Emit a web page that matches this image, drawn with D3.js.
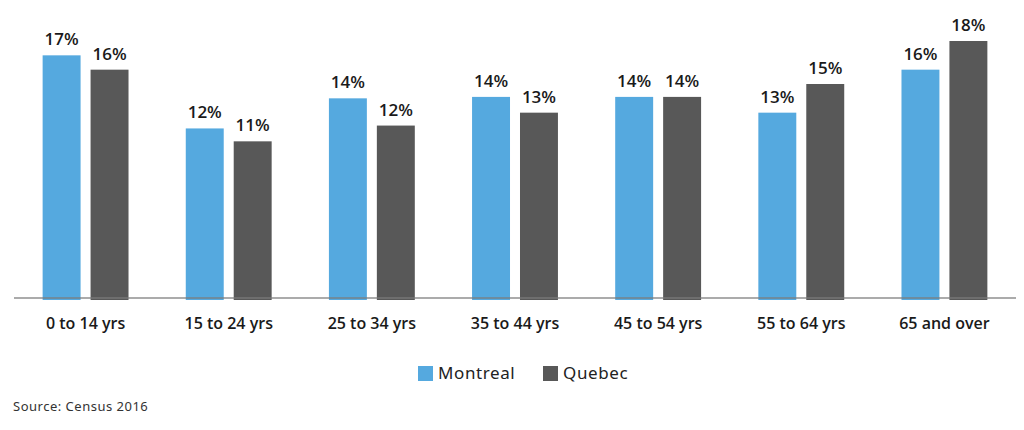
<!DOCTYPE html>
<html><head><meta charset="utf-8">
<script src="https://cdn.jsdelivr.net/npm/d3@7"></script>
<style>
html,body{margin:0;padding:0;background:#fff;}
svg{display:block;}
</style></head>
<body>
<svg id="chart" width="1024" height="430"></svg>
<script>
const categories = ["0 to 14 yrs","15 to 24 yrs","25 to 34 yrs","35 to 44 yrs","45 to 54 yrs","55 to 64 yrs","65 and over"];
const seriesNames = ["Montreal","Quebec"];
const montreal = [17.0, 11.9, 14.0, 14.1, 14.1, 13.0, 16.0];
const quebec   = [16.0, 11.0, 12.1, 13.0, 14.1, 15.0, 18.0];
const colors = ["#55a9df", "#585858"];
const source = "Source: Census 2016";

const svg = d3.select("#chart");
const x0 = d3.scaleBand().domain(categories).range([14, 1016]).paddingInner(0.4).paddingOuter(0.2);
const x1 = d3.scaleBand().domain(seriesNames).range([0, x0.bandwidth()]).paddingInner(10/48);
const y = d3.scaleLinear().domain([0, 18]).range([299, 41]);
const color = d3.scaleOrdinal().domain(seriesNames).range(colors);

const rows = categories.map((c,i)=>({cat:c, vals:[{s:"Montreal",v:montreal[i]},{s:"Quebec",v:quebec[i]}]}));

const g = svg.selectAll("g.grp").data(rows).join("g").attr("class","grp")
  .attr("transform", d=>`translate(${x0(d.cat)},0)`);

g.selectAll("rect").data(d=>d.vals).join("rect")
  .attr("x", d=>x1(d.s)).attr("width", x1.bandwidth())
  .attr("y", d=>y(d.v)).attr("height", d=>y(0)+1-y(d.v))
  .attr("fill", d=>color(d.s));

g.selectAll("text.val").data(d=>d.vals).join("text").attr("class","val")
  .attr("x", d=>x1(d.s)+x1.bandwidth()/2).attr("y", d=>y(d.v)-10)
  .attr("text-anchor","middle")
  .style("font-family","'Open Sans', sans-serif").style("font-weight","600").style("font-size","17px")
  .attr("fill","#1a1a1a")
  .text(d=>Math.round(d.v)+"%");

// baseline axis
const axis = d3.axisBottom(x0).tickSize(0).tickPadding(20);
const ax = svg.append("g").attr("transform","translate(0,298)").call(axis);
ax.select(".domain").attr("stroke","#7a7a7a").attr("stroke-width",1.5).attr("stroke-opacity",0.85)
  .attr("d","M14,0H1016");
ax.selectAll(".tick text")
  .style("font-family","'Open Sans', sans-serif").style("font-weight","600").style("font-size","16px")
  .attr("fill","#1a1a1a");

// legend
const legendX = [418, 543];
const lg = svg.append("g").selectAll("g").data(seriesNames).join("g")
  .attr("transform",(d,i)=>`translate(${legendX[i]},366)`);
lg.append("rect").attr("width",15).attr("height",15).attr("fill",d=>color(d));
lg.append("text").attr("x",20).attr("y",13)
  .style("font-family","'Noto Sans', sans-serif").style("font-size","17px").style("letter-spacing","0.6px")
  .attr("fill","#222").text(d=>d);

svg.append("text").attr("x",13).attr("y",411)
  .style("font-family","'Noto Sans', sans-serif").style("font-size","13px").style("letter-spacing","0.5px")
  .attr("fill","#333").text(source);
</script>
</body></html>
